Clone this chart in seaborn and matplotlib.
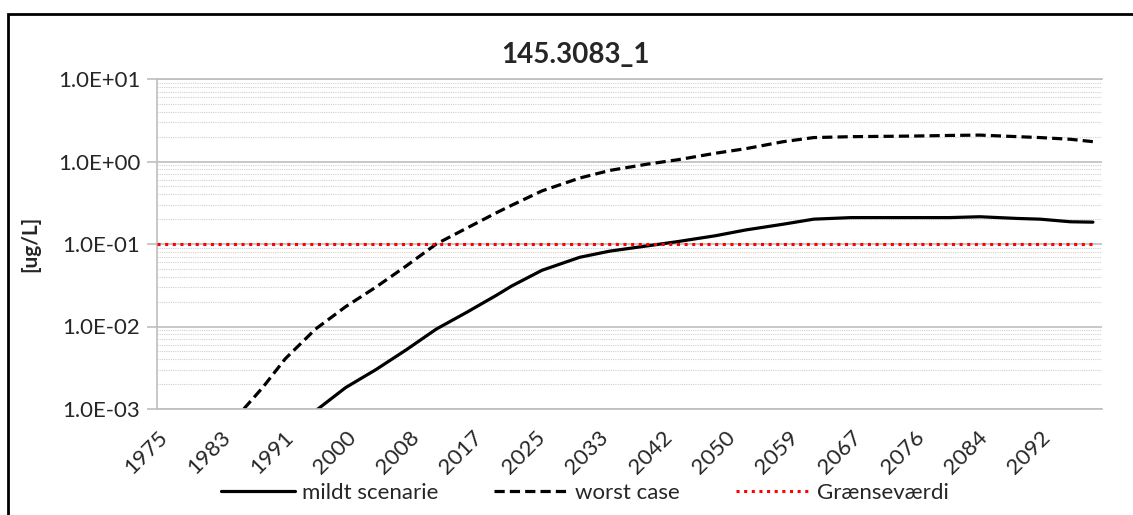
# -----------------------------------------------------------
# Concentration curves, log scale (145.3083_1)
# -----------------------------------------------------------
import numpy as np
import pandas as pd
import matplotlib
matplotlib.use('Agg')
import matplotlib.pyplot as plt
from matplotlib.patches import Rectangle
from matplotlib.ticker import FixedLocator, FuncFormatter, NullFormatter
import seaborn as sns

# -----------------------------------------------------------
# 1. Data
# -----------------------------------------------------------
years = [1975, 1980, 1984, 1986, 1989, 1992, 1996, 2000, 2004, 2008,
         2012, 2016, 2020, 2022, 2026, 2031, 2035, 2040, 2044, 2049,
         2053, 2058, 2062, 2067, 2072, 2076, 2080, 2084, 2089, 2092,
         2096, 2099]

worst_case = [5.0e-5, 1.6e-4, 5.0e-4, 8.9e-4, 1.82e-3, 4.07e-3, 9.3e-3, 1.74e-2,
              3.0e-2, 5.4e-2, 0.100, 0.155, 0.24, 0.295, 0.44, 0.63,
              0.78, 0.93, 1.05, 1.26, 1.43, 1.74, 1.95, 2.00,
              2.02, 2.04, 2.07, 2.09, 2.00, 1.95, 1.86, 1.74]

mildt = [6.3e-6, 2.5e-5, 7.9e-5, 1.26e-4, 2.5e-4, 4.5e-4, 9.5e-4, 1.82e-3,
         3.0e-3, 5.2e-3, 9.3e-3, 1.48e-2, 2.4e-2, 3.1e-2, 4.8e-2, 6.9e-2,
         8.2e-2, 9.5e-2, 0.107, 0.126, 0.148, 0.174, 0.200, 0.209,
         0.209, 0.209, 0.209, 0.214, 0.204, 0.200, 0.186, 0.184]

limit_value = 0.1
limit = [limit_value] * len(years)

tick_labels = ['1975', '1983', '1991', '2000', '2008', '2017', '2025', '2033',
               '2042', '2050', '2059', '2067', '2076', '2084', '2092']

df = pd.DataFrame({'year': years, 'mildt': mildt, 'worst': worst_case, 'limit': limit})

# -----------------------------------------------------------
# 2. Figure setup
# -----------------------------------------------------------
sns.set_style('white')
plt.rcParams['font.family'] = ['Lato', 'DejaVu Sans']

fig = plt.figure(figsize=(11.33, 5.15), dpi=100)
ax = fig.add_axes([157 / 1133, 1 - 409 / 515, 945 / 1133, 330 / 515])

# lines
sns.lineplot(data=df, x='year', y='mildt', ax=ax, color='black', lw=2.3,
             label='mildt scenarie')
sns.lineplot(data=df, x='year', y='worst', ax=ax, color='black', lw=2.3,
             linestyle=(0, (3.2, 1.6)), label='worst case')
sns.lineplot(data=df, x='year', y='limit', ax=ax, color='#FF0000', lw=2.2,
             linestyle=(0, (1, 1.5)), label='Grænseværdi', zorder=3)

# -----------------------------------------------------------
# 3. Axes styling
# -----------------------------------------------------------
ax.set_yscale('log')
ax.set_ylim(1e-3, 10)
ax.set_xlim(1975, 2100.2)

ax.yaxis.set_major_locator(FixedLocator([1e-3, 1e-2, 1e-1, 1e0, 1e1]))
ax.yaxis.set_major_formatter(FuncFormatter(lambda v, p: f'{v:.1E}'))
minor = [m * 10.0 ** e for e in range(-3, 1) for m in range(2, 10)]
ax.yaxis.set_minor_locator(FixedLocator(minor))
ax.yaxis.set_minor_formatter(NullFormatter())

ax.grid(which='major', axis='y', color='#BFBFBF', lw=1.2)
ax.grid(which='minor', axis='y', color='#D0D0D0', lw=0.8, linestyle=(0, (1, 1)))
ax.grid(which='both', axis='x', visible=False)
ax.set_axisbelow(True)

tick_pos = np.linspace(1975, 2092, len(tick_labels))
ax.set_xticks(tick_pos)
ax.set_xticklabels(tick_labels, rotation=45, ha='right', rotation_mode='anchor',
                   fontsize=16)
ax.tick_params(axis='x', length=0, pad=13)
ax.tick_params(axis='y', which='major', length=7, width=1.2, color='#BFBFBF',
               labelsize=16, pad=5, left=True)
ax.tick_params(axis='y', which='minor', length=0)

for side in ['left', 'bottom', 'top']:
    ax.spines[side].set_color('#BFBFBF')
    ax.spines[side].set_linewidth(1.2)
ax.spines['right'].set_visible(False)

ax.set_xlabel('')
ax.set_ylabel('[ug/L]', fontsize=15, fontweight='bold')
ax.yaxis.set_label_coords(-0.124, 0.5)

# title centred on the chart area
fig.text(575 / 1133, 1 - 55 / 515, '145.3083_1', ha='center', va='center',
         fontsize=20, fontweight='bold')

# legend below the plot
ax.get_legend().remove()
handles, labels = ax.get_legend_handles_labels()
fig.legend(handles, labels, loc='center', bbox_to_anchor=(585 / 1133, 1 - 493 / 515),
           ncol=3, frameon=False, fontsize=16, handlelength=3.3,
           handletextpad=0.35, columnspacing=2.5)

# chart border (cut off at right and bottom)
fig.add_artist(Rectangle((8 / 1133, -0.1), 1.2, 0.1 + 1 - 14 / 515,
                         transform=fig.transFigure, fill=False,
                         edgecolor='black', lw=2))

fig.savefig('out.png', dpi=100)
